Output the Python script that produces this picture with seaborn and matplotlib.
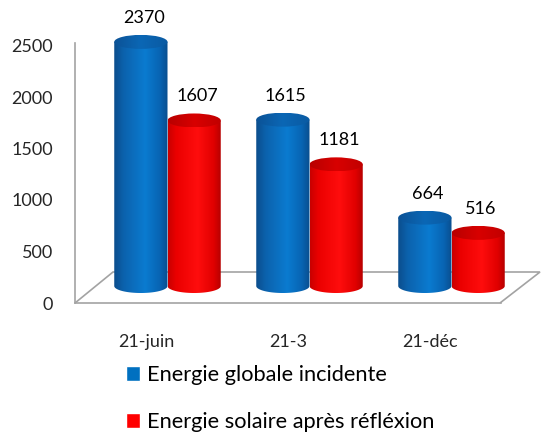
import numpy as np
import pandas as pd
import matplotlib
matplotlib.use("Agg")
import matplotlib.pyplot as plt
from matplotlib.colors import LinearSegmentedColormap
from matplotlib.patches import Ellipse, Polygon
import seaborn as sns

# ---- data -------------------------------------------------------------
dates = ["21-juin", "21-3", "21-déc"]
series = ["Energie globale incidente", "Energie solaire après réfléxion"]
incidente = [2370, 1615, 664]
reflexion = [1607, 1181, 516]
yticks = [0, 500, 1000, 1500, 2000, 2500]

df = pd.DataFrame({
    "date": dates * 2,
    "energie": incidente + reflexion,
    "serie": [series[0]] * len(dates) + [series[1]] * len(dates),
})

BLUE, RED = "#0070c0", "#ff0000"
GREY = "#a3a3a3"

sns.set_theme(style="white")
plt.rcParams["font.family"] = ["Lato", "DejaVu Sans"]
plt.rcParams["text.color"] = "black"

W, H = 541, 432
fig = plt.figure(figsize=(W / 100, H / 100), dpi=100)


def px_axes(left, top, right, bottom, **kw):
    """Axes placed by pixel edges measured from the top-left corner."""
    return fig.add_axes([left / W, 1 - bottom / H, (right - left) / W,
                         (bottom - top) / H], **kw)


PX_PER_UNIT = 0.103          # vertical pixels per energy unit
YMAX = 260 / PX_PER_UNIT
YMIN_B = -150

# ---- floor of the 3-D box --------------------------------------------
ax_bg = px_axes(0, 0, W, H, zorder=0)
ax_bg.set_xlim(0, W)
ax_bg.set_ylim(H, 0)
ax_bg.axis("off")
ax_bg.plot([75, 113, 540, 500], [303, 272, 272, 303], color=GREY, lw=1.2,
           solid_joinstyle="miter", solid_capstyle="butt")

# ---- front plane: value axis and category labels ---------------------
ax_f = px_axes(75, 43, 501, 303, zorder=1)
ax_f.patch.set_visible(False)
ax_f.set_xlim(-0.5, 2.5)
ax_f.set_ylim(0, YMAX)
ax_f.set_xticks(range(len(dates)), dates)
ax_f.set_yticks(yticks)
for side in ("top", "right"):
    ax_f.spines[side].set_visible(False)
for side in ("left", "bottom"):
    ax_f.spines[side].set_color(GREY)
    ax_f.spines[side].set_linewidth(1.2)
ax_f.tick_params(axis="y", length=0, pad=16, labelsize=13)
ax_f.tick_params(axis="x", length=0, pad=22, labelsize=13)
ax_f.grid(False)

# ---- cylinders ---------------------------------------------------------
bot_px = 286 - YMIN_B * PX_PER_UNIT
ax_b = px_axes(96.5, 26, 522.5, bot_px, zorder=2)
sns.barplot(data=df, x="date", y="energie", hue="serie",
            palette=[BLUE, RED], width=0.75, saturation=1, ax=ax_b)
ax_b.patch.set_visible(False)

body_maps = [
    LinearSegmentedColormap.from_list(
        "cyl_b", [(0, "#0b4d8c"), (0.18, "#0c62ad"), (0.58, "#0a7bd0"),
                  (0.85, "#0864b3"), (1, "#0a4e8e")]),
    LinearSegmentedColormap.from_list(
        "cyl_r", [(0, "#c80000"), (0.15, "#ea0000"), (0.55, "#ff0d0d"),
                  (0.85, "#e00000"), (1, "#b00000")]),
]
top_maps = [
    LinearSegmentedColormap.from_list(
        "top_b", [(0, "#0b5296"), (0.5, "#0b67b5"), (1, "#0a5aa2")]),
    LinearSegmentedColormap.from_list(
        "top_r", [(0, "#b80000"), (0.5, "#d80000"), (1, "#c00000")]),
]

ELL_H = 14 / PX_PER_UNIT
grad = np.linspace(0, 1, 256)[None, :]
t = np.linspace(0, np.pi, 80)

bars = []
for k, container in enumerate(ax_b.containers):
    for bar in container:
        bars.append((bar, k))
bars.sort(key=lambda item: item[0].get_x())

for i, (bar, k) in enumerate(bars):
    x0, w, h = bar.get_x(), bar.get_width(), bar.get_height()
    xc = x0 + w / 2
    bar.set_visible(False)
    z = 3 + i

    # body: side of the cylinder plus the lower half of its base
    bx = xc + (w / 2) * np.cos(t)
    by = -(ELL_H / 2) * np.sin(t)
    verts = np.column_stack([np.r_[x0, x0 + w, bx], np.r_[h, h, by]])
    outline = Polygon(verts, closed=True, facecolor="none", edgecolor="none",
                      transform=ax_b.transData)
    ax_b.add_patch(outline)
    body = ax_b.imshow(grad, cmap=body_maps[k], aspect="auto",
                       extent=[x0, x0 + w, -ELL_H / 2, h], zorder=z,
                       interpolation="bilinear")
    body.set_clip_path(outline)

    # lid
    cap = Ellipse((xc, h), w, ELL_H, facecolor="none", edgecolor="none",
                  transform=ax_b.transData)
    ax_b.add_patch(cap)
    lid = ax_b.imshow(grad, cmap=top_maps[k], aspect="auto",
                      extent=[x0, x0 + w, h - ELL_H / 2, h + ELL_H / 2],
                      zorder=z + 0.5, interpolation="bilinear")
    lid.set_clip_path(cap)

    ax_b.annotate(f"{h:.0f}", (xc, h), xytext=(3, 24),
                  textcoords="offset pixels", ha="center", va="center",
                  fontsize=13, annotation_clip=False)

ax_b.set_xlim(-0.5, 2.5)
ax_b.set_ylim(YMIN_B, YMAX)
ax_b.axis("off")

sns.move_legend(ax_b, "upper left", bbox_to_anchor=(126 / W, 1 - 365 / H),
                bbox_transform=fig.transFigure, frameon=False, title=None,
                fontsize=15.7, handlelength=0.65, handleheight=0.65,
                handletextpad=0.3, labelspacing=1.25, borderpad=0,
                borderaxespad=0)

fig.savefig("out.png", dpi=100)
